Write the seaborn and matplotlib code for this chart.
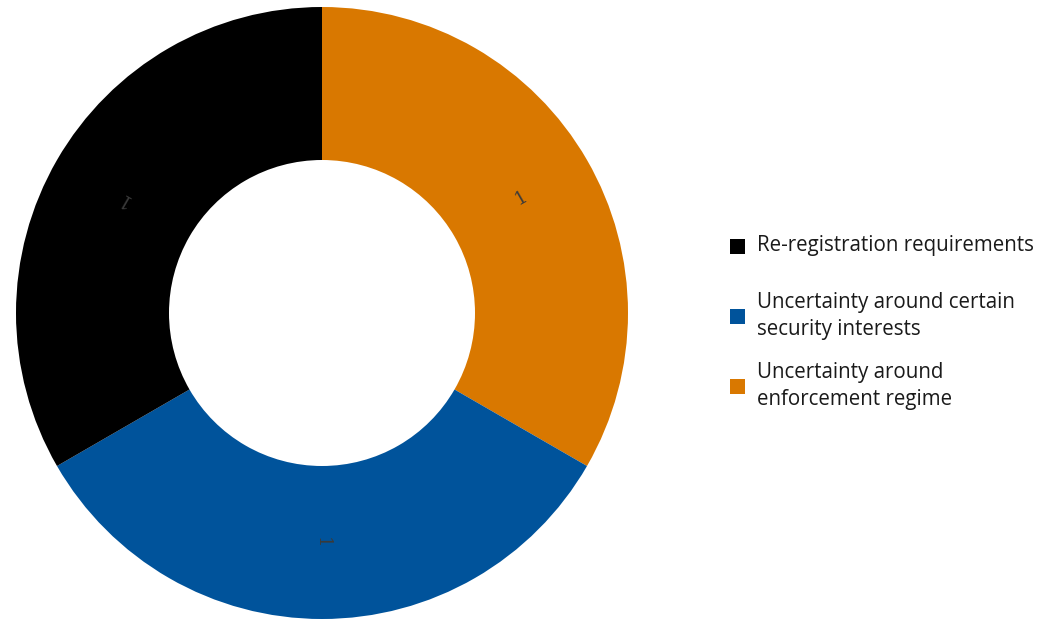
import matplotlib
matplotlib.use("Agg")
import matplotlib.pyplot as plt
import seaborn as sns
import numpy as np
from matplotlib.patches import Rectangle

# Barrier categories and their response counts
categories = ["Uncertainty around\nenforcement regime",
              "Uncertainty around certain\nsecurity interests",
              "Re-registration requirements"]
counts = [1, 1, 1]
colors = ["#D97800", "#00539B", "#000000"]
legend_order = [2, 1, 0]

sns.set_theme(style="white")
plt.rcParams['font.family'] = ['Open Sans', 'DejaVu Sans']

W, H = 1042, 619
fig = plt.figure(figsize=(W / 100, H / 100), dpi=100)
ax = fig.add_axes([16 / W, 0.0, 612 / W, 612 / H])

wedges, _ = ax.pie(counts, colors=colors, startangle=90, counterclock=False,
                   radius=1.0, wedgeprops=dict(width=0.5, linewidth=0))
ax.set_xlim(-1, 1)
ax.set_ylim(-1, 1)
ax.set_aspect("equal")
ax.axis("off")

# Value labels placed mid-ring, rotated with the wedge angle
for w, v in zip(wedges, counts):
    theta = (w.theta1 + w.theta2) / 2.0
    r = 0.75
    x = r * np.cos(np.radians(theta))
    y = r * np.sin(np.radians(theta))
    ax.text(x, y, str(v), ha="center", va="center", rotation=theta % 360,
            rotation_mode="anchor", fontsize=13, color="#3a3a3a",
            family="DejaVu Serif")

# Legend: square swatch plus wrapped label, rows centred at these pixel heights
row_y = [246, 316, 386]
box = 15
for yy, i in zip(row_y, legend_order):
    fig.patches.append(Rectangle(((737 - box / 2) / W, 1 - (yy + box / 2) / H),
                                 box / W, box / H, transform=fig.transFigure,
                                 facecolor=colors[i], edgecolor="none"))
    fig.text(757 / W, 1 - yy / H, categories[i], ha="left", va="center",
             fontsize=14.8, color="#1a1a1a", linespacing=1.4)

fig.savefig("out.png", dpi=100)
